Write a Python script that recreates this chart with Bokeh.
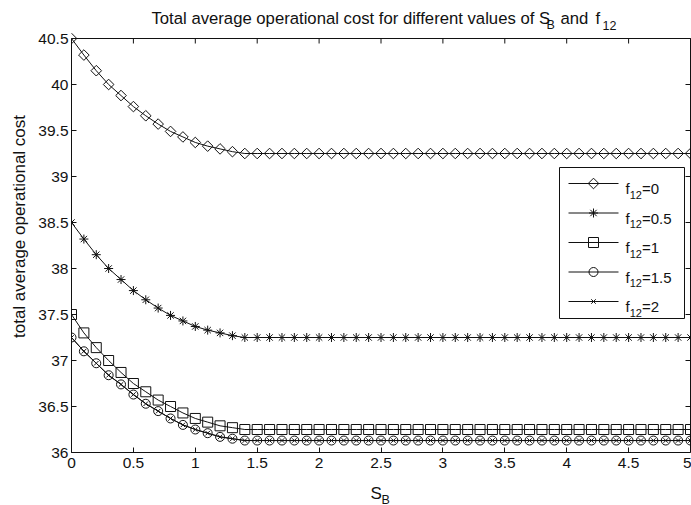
import math

from bokeh.plotting import figure
from bokeh.layouts import column
from bokeh.models import Range1d, FixedTicker, NumeralTickFormatter
from bokeh.core.properties import value
from bokeh.embed import file_html
from bokeh.resources import INLINE

# ---- data -----------------------------------------------------------------
s_b = [0.0, 0.1, 0.2, 0.3, 0.4, 0.5, 0.6, 0.7, 0.8, 0.9,
       1.0, 1.1, 1.2, 1.3, 1.4, 1.5, 1.6, 1.7, 1.8, 1.9,
       2.0, 2.1, 2.2, 2.3, 2.4, 2.5, 2.6, 2.7, 2.8, 2.9,
       3.0, 3.1, 3.2, 3.3, 3.4, 3.5, 3.6, 3.7, 3.8, 3.9,
       4.0, 4.1, 4.2, 4.3, 4.4, 4.5, 4.6, 4.7, 4.8, 4.9, 5.0]

cost_f0 = [40.50, 40.32, 40.15, 40.00, 39.88, 39.76, 39.66, 39.57, 39.49, 39.43,
           39.37, 39.33, 39.30, 39.27, 39.25, 39.25, 39.25, 39.25, 39.25, 39.25,
           39.25, 39.25, 39.25, 39.25, 39.25, 39.25, 39.25, 39.25, 39.25, 39.25,
           39.25, 39.25, 39.25, 39.25, 39.25, 39.25, 39.25, 39.25, 39.25, 39.25,
           39.25, 39.25, 39.25, 39.25, 39.25, 39.25, 39.25, 39.25, 39.25, 39.25, 39.25]

cost_f05 = [38.50, 38.32, 38.15, 38.00, 37.88, 37.76, 37.66, 37.57, 37.49, 37.43,
            37.37, 37.33, 37.30, 37.27, 37.25, 37.25, 37.25, 37.25, 37.25, 37.25,
            37.25, 37.25, 37.25, 37.25, 37.25, 37.25, 37.25, 37.25, 37.25, 37.25,
            37.25, 37.25, 37.25, 37.25, 37.25, 37.25, 37.25, 37.25, 37.25, 37.25,
            37.25, 37.25, 37.25, 37.25, 37.25, 37.25, 37.25, 37.25, 37.25, 37.25, 37.25]

cost_f1 = [37.50, 37.30, 37.14, 37.00, 36.87, 36.75, 36.66, 36.57, 36.50, 36.43,
           36.37, 36.33, 36.29, 36.27, 36.25, 36.25, 36.25, 36.25, 36.25, 36.25,
           36.25, 36.25, 36.25, 36.25, 36.25, 36.25, 36.25, 36.25, 36.25, 36.25,
           36.25, 36.25, 36.25, 36.25, 36.25, 36.25, 36.25, 36.25, 36.25, 36.25,
           36.25, 36.25, 36.25, 36.25, 36.25, 36.25, 36.25, 36.25, 36.25, 36.25, 36.25]

cost_f15 = [37.25, 37.10, 36.97, 36.84, 36.74, 36.63, 36.53, 36.45, 36.37, 36.30,
            36.25, 36.21, 36.17, 36.15, 36.13, 36.13, 36.13, 36.13, 36.13, 36.13,
            36.13, 36.13, 36.13, 36.13, 36.13, 36.13, 36.13, 36.13, 36.13, 36.13,
            36.13, 36.13, 36.13, 36.13, 36.13, 36.13, 36.13, 36.13, 36.13, 36.13,
            36.13, 36.13, 36.13, 36.13, 36.13, 36.13, 36.13, 36.13, 36.13, 36.13, 36.13]

cost_f2 = [37.25, 37.10, 36.97, 36.84, 36.74, 36.63, 36.53, 36.45, 36.37, 36.30,
           36.25, 36.21, 36.17, 36.15, 36.13, 36.13, 36.13, 36.13, 36.13, 36.13,
           36.13, 36.13, 36.13, 36.13, 36.13, 36.13, 36.13, 36.13, 36.13, 36.13,
           36.13, 36.13, 36.13, 36.13, 36.13, 36.13, 36.13, 36.13, 36.13, 36.13,
           36.13, 36.13, 36.13, 36.13, 36.13, 36.13, 36.13, 36.13, 36.13, 36.13, 36.13]

f12_values = ["0", "0.5", "1", "1.5", "2"]
x_ticks = [0, 0.5, 1, 1.5, 2, 2.5, 3, 3.5, 4, 4.5, 5]
y_ticks = [36, 36.5, 37, 37.5, 38, 38.5, 39, 39.5, 40, 40.5]

# ---- layout ---------------------------------------------------------------
FONT = "Liberation Sans"
INK = "#111111"
W = 691
PLOT_H, XLAB_H = 480, 25
BOX_LEFT, BOX_TOP = 71, 38      # canvas pixels of the axes box
BOX_W, BOX_H = 619, 414
PLOT_BOTTOM_BORDER = PLOT_H - BOX_TOP - BOX_H
X0, X1 = 0, 5
Y0, Y1 = 36, 40.5
PX_X = (X1 - X0) / BOX_W        # data units per pixel
PX_Y = (Y1 - Y0) / BOX_H


def dx(px):
    """canvas column -> data x of the main plot"""
    return X0 + (px - BOX_LEFT) * PX_X


def dy(py):
    """canvas row -> data y of the main plot"""
    return Y1 - (py - BOX_TOP) * PX_Y


# Liberation Sans (Arial metrics) advance widths, 1/1000 em
ADV = {' ': 278, 'f': 278, '=': 584, '.': 278}


def text_width(s, size):
    return sum(ADV.get(ch, 556) for ch in s) * size / 1000.0


def put_text(fig, x, y, txt, size):
    fig.text(x=[x], y=[y], text=[txt], text_font=value(FONT),
             text_font_size=value(f"{size}px"), text_color=INK,
             text_baseline="alphabetic", text_align="left")


# ---- main plot: the frame runs up to the top of the canvas so the title,
# with its subscripts, can be drawn as text glyphs above the axes box -------
p = figure(width=W, height=PLOT_H,
           x_range=Range1d(X0, X1 + 1 * PX_X),
           y_range=Range1d(Y0, Y1 + BOX_TOP * PX_Y),
           output_backend="svg", toolbar_location=None,
           min_border_left=BOX_LEFT, min_border_right=0,
           min_border_top=0, min_border_bottom=PLOT_BOTTOM_BORDER,
           background_fill_color="white", border_fill_color="white",
           outline_line_color=None)
p.grid.visible = False

xa, ya = p.xaxis[0], p.yaxis[0]
xa.ticker = FixedTicker(ticks=x_ticks)
ya.ticker = FixedTicker(ticks=y_ticks)
xa.bounds = (X0, X1)
ya.bounds = (Y0, Y1)
for ax in (xa, ya):
    ax.axis_line_color = INK
    ax.major_tick_line_color = INK
    ax.minor_tick_line_color = None
    ax.major_tick_in = 5
    ax.major_tick_out = 0
    ax.major_label_text_font = FONT
    ax.major_label_text_color = INK
    ax.major_label_text_font_size = "15.5px"
    ax.formatter = NumeralTickFormatter(format="0.[0]")
xa.major_label_standoff = 5
ya.major_label_standoff = 3

ya.axis_label = "total average operational cost"
ya.axis_label_text_font = FONT
ya.axis_label_text_font_size = "17px"
ya.axis_label_text_font_style = "normal"
ya.axis_label_text_color = INK
ya.axis_label_standoff = 6

# top and right sides of the box, with inward ticks
p.segment(x0=[X0, X1], y0=[Y1, Y0], x1=[X1, X1], y1=[Y1, Y1],
          line_color=INK, line_width=1)
p.segment(x0=x_ticks, y0=[Y1] * len(x_ticks), x1=x_ticks,
          y1=[Y1 - 5 * PX_Y] * len(x_ticks), line_color=INK, line_width=1)
p.segment(x0=[X1] * len(y_ticks), y0=y_ticks, x1=[X1 - 5 * PX_X] * len(y_ticks),
          y1=y_ticks, line_color=INK, line_width=1)

series = [
    (cost_f0, dict(marker="square", size=7.5, angle=math.pi / 4)),
    (cost_f05, dict(marker="asterisk", size=9)),
    (cost_f1, dict(marker="square", size=10)),
    (cost_f15, dict(marker="circle", size=9)),
    (cost_f2, dict(marker="x", size=6.4)),
]

for values, mk in series:
    p.line(s_b, values, line_color=INK, line_width=1)
    p.scatter(s_b, values, line_color=INK, line_width=1, fill_alpha=0, **mk)

# ---- legend (drawn by hand to allow the f12 subscript) ---------------------
LG_L, LG_R, LG_T, LG_B = 559, 684, 167, 318
ROW0, ROW_STEP = 183, 29.5
LEG_SIZE, LEG_SUB = 15, 11
p.quad(left=[dx(LG_L)], right=[dx(LG_R)], top=[dy(LG_T)], bottom=[dy(LG_B)],
       fill_color="white", line_color=INK, line_width=1)
for i, (lbl, (values, mk)) in enumerate(zip(f12_values, series)):
    ry = ROW0 + i * ROW_STEP
    p.line([dx(568), dx(618)], [dy(ry), dy(ry)], line_color=INK, line_width=1)
    p.scatter([dx(593)], [dy(ry)], line_color=INK, line_width=1, fill_alpha=0, **mk)
    cx = 625
    put_text(p, dx(cx), dy(ry + 5), "f", LEG_SIZE)
    cx += text_width("f", LEG_SIZE)
    put_text(p, dx(cx), dy(ry + 11), "12", LEG_SUB)
    cx += text_width("12", LEG_SUB)
    put_text(p, dx(cx), dy(ry + 5), "=" + lbl, LEG_SIZE)

# ---- title ----------------------------------------------------------------
put_text(p, dx(151), dy(18), "Total average operational cost for different values of S", 16.7)
put_text(p, dx(546), dy(24.5), "B", 12.5)
put_text(p, dx(560), dy(18), "and", 16.7)
put_text(p, dx(595), dy(18), "f", 16.7)
put_text(p, dx(602), dy(24.5), "12", 12.5)

# ---- x-axis label strip (frame lines up with the plot frame) --------------
xlab = figure(width=W, height=XLAB_H,
              x_range=Range1d(BOX_LEFT, W), y_range=Range1d(XLAB_H, 0),
              output_backend="svg", toolbar_location=None, min_border=0,
              x_axis_location=None, y_axis_location=None,
              outline_line_color=None, background_fill_color="white",
              border_fill_color="white")
xlab.grid.visible = False
put_text(xlab, 370, 13, "S", 17)
put_text(xlab, 381, 19, "B", 12.5)

layout = column(p, xlab, spacing=0)
open("out.html", "w").write(file_html(layout, INLINE))
